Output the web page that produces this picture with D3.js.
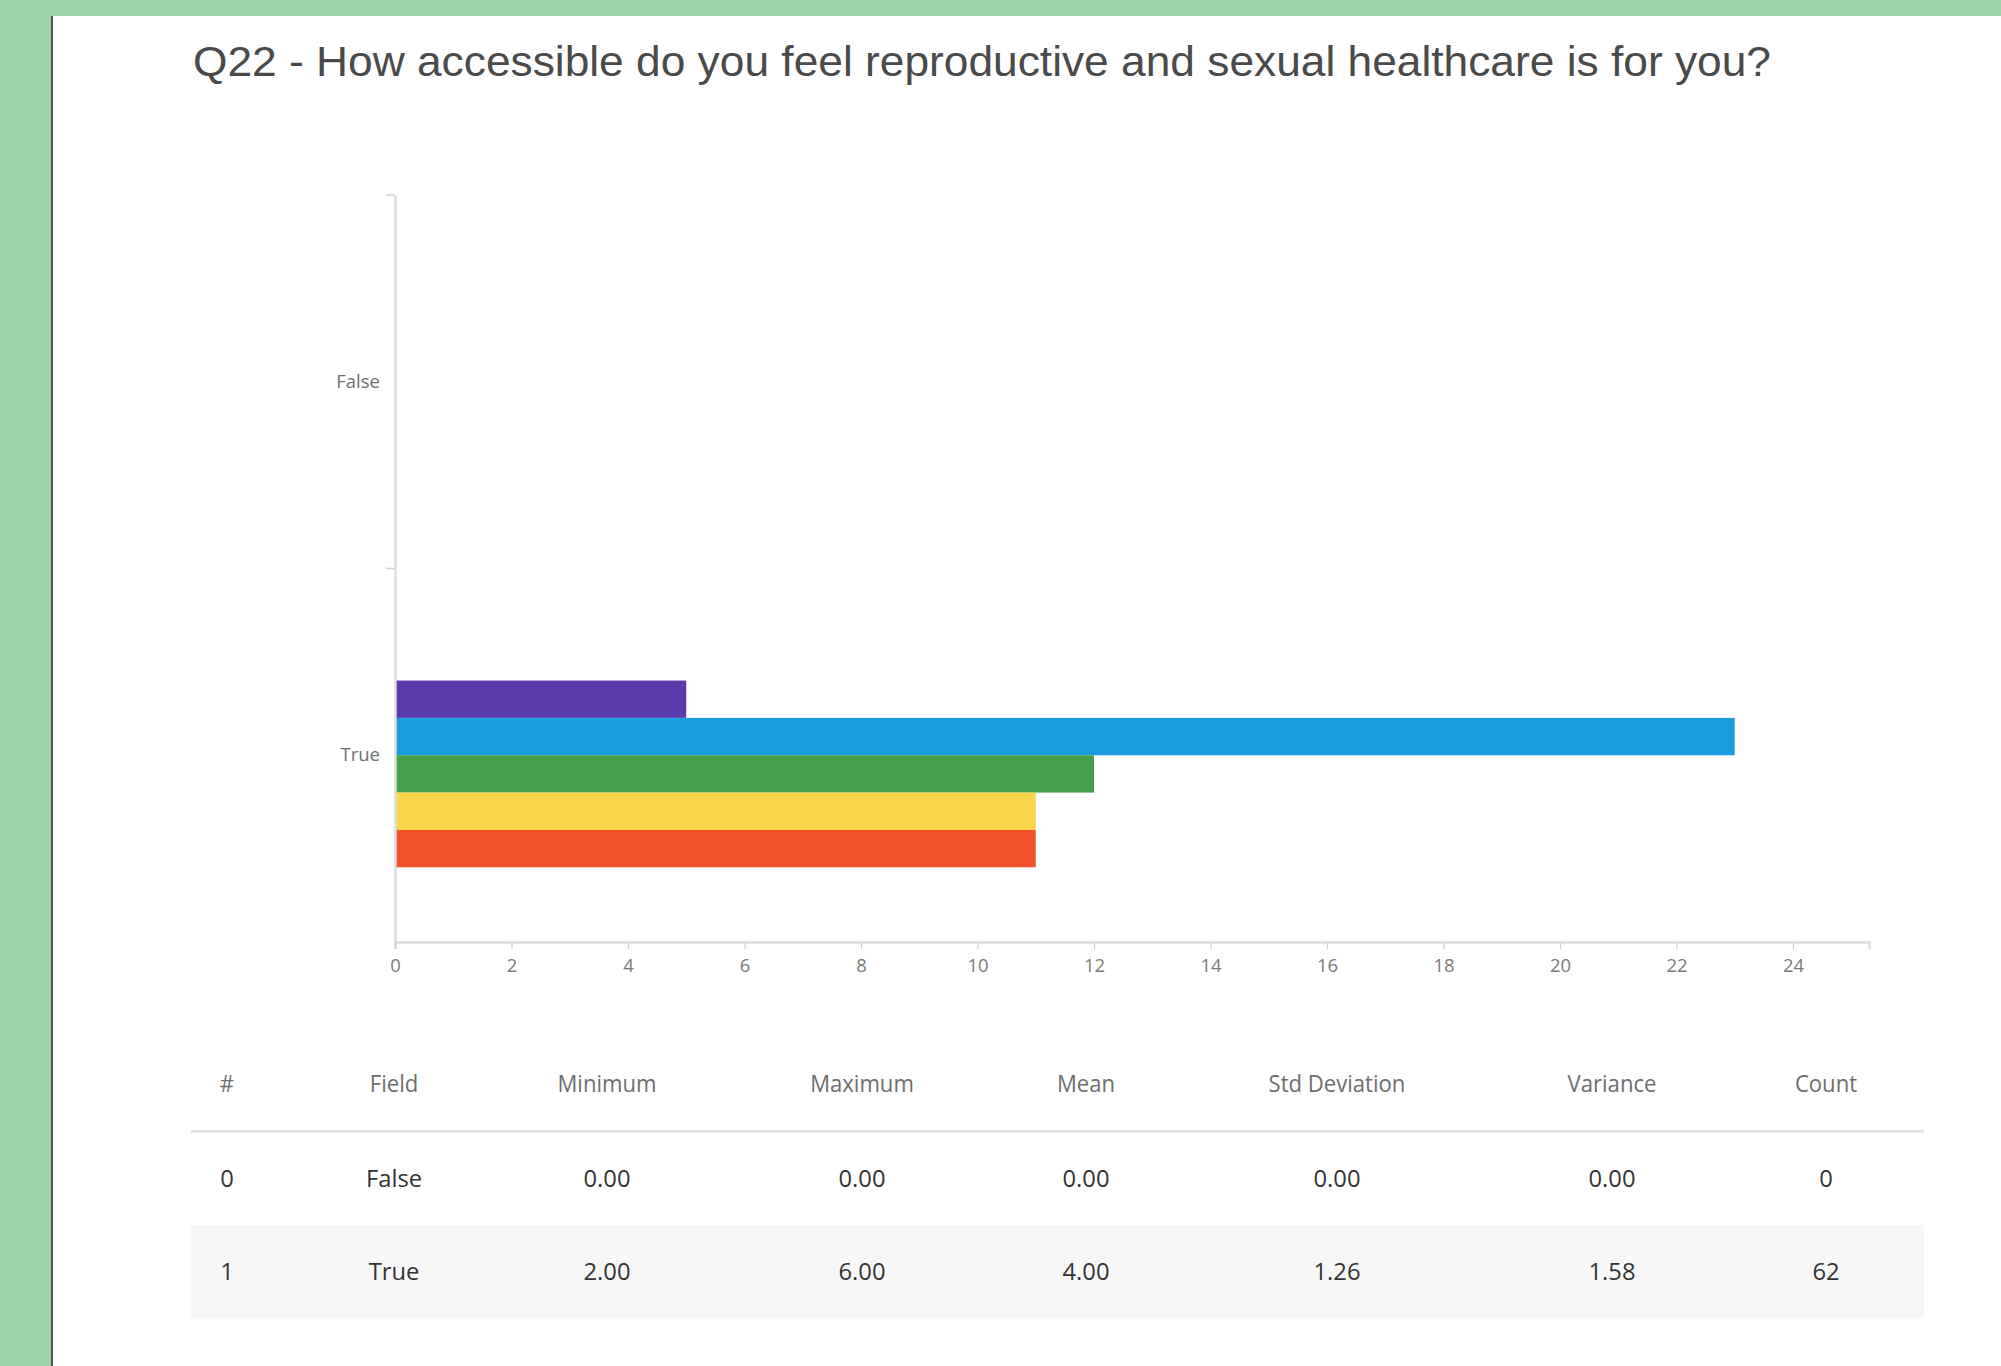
<!DOCTYPE html>
<html>
<head>
<meta charset="utf-8">
<script src="https://cdn.jsdelivr.net/npm/d3@7"></script>
<style>
  html, body { margin: 0; padding: 0; background: #fff; }
  svg { display: block; }
</style>
</head>
<body>
<script>
// ---------- data ----------
const titleText = "Q22 - How accessible do you feel reproductive and sexual healthcare is for you?";
const categories = ["False", "True"];
// series from top slot to bottom slot inside each category band
const seriesNames = ["Option 1", "Option 6", "Option 5", "Option 4", "Option 3", "Option 2"];
const seriesColors = ["#e0e0e0", "#5e39ab", "#1b9ce0", "#46a04b", "#fbd64a", "#f1512b"];
const valuesFalse = [0, 0, 0, 0, 0, 0];
const valuesTrue  = [0, 5, 23, 12, 11, 11];
const xTicks = [0, 2, 4, 6, 8, 10, 12, 14, 16, 18, 20, 22, 24];

const tableHeaders = ["#", "Field", "Minimum", "Maximum", "Mean", "Std Deviation", "Variance", "Count"];
const rowIndex   = ["0", "1"];
const rowField   = ["False", "True"];
const rowMin     = ["0.00", "2.00"];
const rowMax     = ["0.00", "6.00"];
const rowMean    = ["0.00", "4.00"];
const rowStd     = ["0.00", "1.26"];
const rowVar     = ["0.00", "1.58"];
const rowCount   = ["0", "62"];

// ---------- layout ----------
const W = 2001, H = 1366;
const svg = d3.select("body").append("svg").attr("width", W).attr("height", H);

// frame
svg.append("rect").attr("x", 0).attr("y", 0).attr("width", W).attr("height", H).attr("fill", "#fff");
svg.append("rect").attr("x", 0).attr("y", 0).attr("width", W).attr("height", 16).attr("fill", "#9dd5a8");
svg.append("rect").attr("x", 0).attr("y", 0).attr("width", 51).attr("height", H).attr("fill", "#9dd5a8");
svg.append("rect").attr("x", 51).attr("y", 16).attr("width", 2).attr("height", H - 16).attr("fill", "#555");

// title
const title = svg.append("text")
  .attr("x", 193).attr("y", 76)
  .attr("font-family", "'Liberation Sans', Arial, sans-serif")
  .attr("font-size", 42)
  .attr("fill", "#4a4a4a")
  .text(titleText);
{
  const target = 1578;
  const nat = title.node().getComputedTextLength();
  if (Math.abs(nat - target) > 4) title.attr("textLength", target).attr("lengthAdjust", "spacingAndGlyphs");
}

// chart
const x0 = 395, x1 = 1869, yTop = 195, yBot = 942;
const x = d3.scaleLinear().domain([0, (x1 - x0) / 58.25]).range([x0, x1]);
const y = d3.scaleBand().domain(categories).range([yTop, yBot]).padding(0);
const yInner = d3.scaleBand().domain(seriesNames).range([0, y.bandwidth()]).paddingInner(0).paddingOuter(2);

const seriesByCat = { "False": valuesFalse, "True": valuesTrue };

const g = svg.append("g");
categories.forEach(cat => {
  const vals = seriesByCat[cat];
  g.selectAll(null).data(seriesNames.map((s, i) => ({ s, v: vals[i], c: seriesColors[i] })))
    .enter().append("rect")
    .attr("x", x(0))
    .attr("y", d => y(cat) + yInner(d.s))
    .attr("width", d => x(d.v) - x(0))
    .attr("height", yInner.bandwidth())
    .attr("fill", d => d.c);
});

// x axis
const xAxis = d3.axisBottom(x).tickValues(xTicks).tickSize(7).tickPadding(10).tickFormat(d3.format("d"));
const gx = svg.append("g").attr("transform", `translate(0,${yBot})`).call(xAxis);
gx.select(".domain").attr("stroke", "#dcdcdc").attr("stroke-width", 2.5);
gx.selectAll(".tick line").attr("stroke", "#d0d0d0").attr("stroke-width", 1.2);
gx.selectAll(".tick text")
  .attr("font-family", "'Open Sans', sans-serif").attr("font-size", 18.5).attr("fill", "#7a7a7a");

// y axis
const yAxis = d3.axisLeft(y).tickSize(0).tickPadding(15);
const gy = svg.append("g").attr("transform", `translate(${x0},0)`).call(yAxis);
gy.select(".domain").attr("stroke", "#dcdcdc").attr("stroke-width", 2.5);
gy.selectAll(".tick text")
  .attr("font-family", "'Open Sans', sans-serif").attr("font-size", 18.5).attr("fill", "#707070");
// band boundary ticks
gy.selectAll(null).data(categories).enter().append("line")
  .attr("x1", -9).attr("x2", 0)
  .attr("y1", d => y(d)).attr("y2", d => y(d))
  .attr("stroke", "#d0d0d0").attr("stroke-width", 1.5);

// table
const colX = [227, 394, 607, 862, 1086, 1337, 1612, 1826];
const tLeft = 191, tRight = 1924;
const rowTops = [1132, 1225];
const rowH = 93;
svg.append("rect").attr("x", tLeft).attr("y", rowTops[1]).attr("width", tRight - tLeft).attr("height", rowH).attr("fill", "#f7f7f7");
svg.append("rect").attr("x", tLeft).attr("y", 1130).attr("width", tRight - tLeft).attr("height", 2.5).attr("fill", "#e2e2e2");

function fitText(squeeze) {
  return sel => sel.each(function () {
    const n = this.getComputedTextLength();
    d3.select(this).attr("textLength", n * squeeze).attr("lengthAdjust", "spacingAndGlyphs");
  });
}

svg.append("g").selectAll("text").data(tableHeaders).enter().append("text")
  .attr("x", (d, i) => colX[i]).attr("y", 1092)
  .attr("text-anchor", "middle")
  .attr("font-family", "'Open Sans', sans-serif").attr("font-size", 23.5).attr("fill", "#6e6e6e")
  .text(d => d)
  .call(fitText(0.94));

const cols = [rowIndex, rowField, rowMin, rowMax, rowMean, rowStd, rowVar, rowCount];
[0, 1].forEach(r => {
  svg.append("g").selectAll("text").data(cols.map(c => c[r])).enter().append("text")
    .attr("x", (d, i) => colX[i]).attr("y", rowTops[r] + rowH / 2 + 8)
    .attr("text-anchor", "middle")
    .attr("font-family", "'Open Sans', sans-serif").attr("font-size", 24.5).attr("fill", "#333")
    .text(d => d)
    .call(fitText(0.97));
});
</script>
</body>
</html>
